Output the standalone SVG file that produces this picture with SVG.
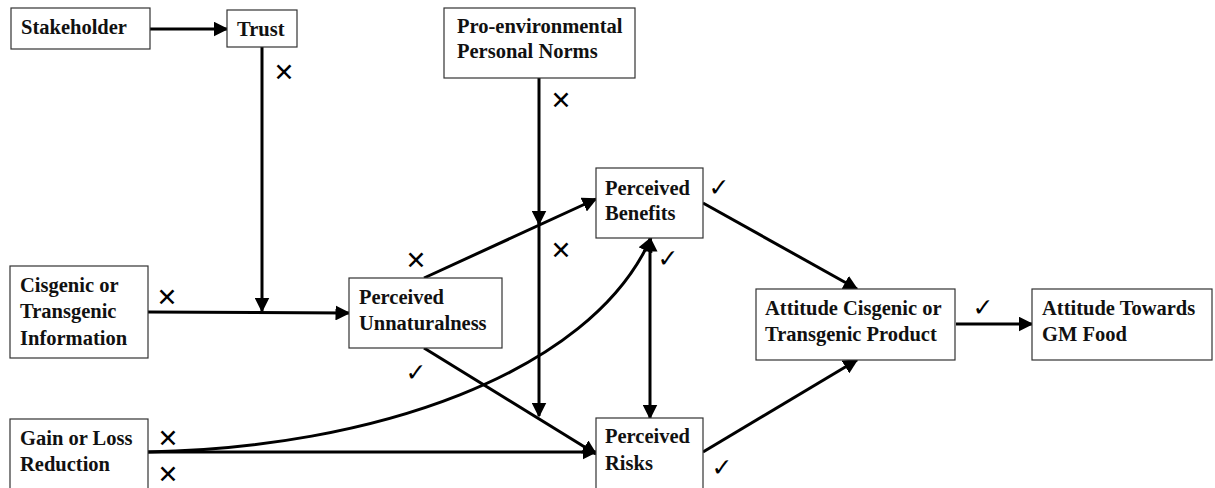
<svg xmlns="http://www.w3.org/2000/svg" width="1215" height="488" viewBox="0 0 1215 488">
<style>
.box{fill:#fff;stroke:#333;stroke-width:1.2}
.t{font-family:"Liberation Serif",serif;font-weight:bold;font-size:20.5px;fill:#111}
.c{stroke:#000;stroke-width:3;fill:none}
.m{font-family:"DejaVu Sans",sans-serif;font-size:25px;fill:#000}
.x{font-weight:bold}
</style>
<defs>
<marker id="ah" viewBox="0 0 10 10" refX="9" refY="5" markerWidth="5" markerHeight="5" orient="auto-start-reverse" markerUnits="strokeWidth">
<path d="M0,0 L10,5 L0,10 z" fill="#000"/>
</marker>
</defs>
<rect width="1215" height="488" fill="#fff"/>
<g id="connectors">
<line class="c" x1="150" y1="29" x2="227" y2="29" marker-end="url(#ah)"/>
<line class="c" x1="262" y1="47" x2="262" y2="311" marker-end="url(#ah)"/>
<line class="c" x1="148" y1="312" x2="349" y2="313" marker-end="url(#ah)"/>
<line class="c" x1="539" y1="78" x2="539" y2="224" marker-end="url(#ah)"/>
<line class="c" x1="539" y1="222" x2="539" y2="416" marker-end="url(#ah)"/>
<line class="c" x1="424" y1="278" x2="596" y2="199" marker-end="url(#ah)"/>
<line class="c" x1="424" y1="348" x2="596" y2="454" marker-end="url(#ah)"/>
<line class="c" x1="148" y1="452" x2="596" y2="452" marker-end="url(#ah)"/>
<path class="c" d="M148,452 C370,448 590,375 651,238" marker-end="url(#ah)"/>
<line class="c" x1="650" y1="238" x2="650" y2="418" marker-start="url(#ah)" marker-end="url(#ah)"/>
<line class="c" x1="703" y1="203" x2="857" y2="289" marker-end="url(#ah)"/>
<line class="c" x1="703" y1="452" x2="857" y2="360" marker-end="url(#ah)"/>
<line class="c" x1="956" y1="324" x2="1032" y2="324" marker-end="url(#ah)"/>
</g>
<g id="stakeholder"><rect class="box" x="11" y="8" width="139" height="41"/><text class="t" x="21" y="34">Stakeholder</text></g>
<g id="trust"><rect class="box" x="227" y="10" width="70" height="37"/><text class="t" x="237" y="36">Trust</text></g>
<g id="proenv"><rect class="box" x="444" y="8" width="191" height="70"/><text class="t" x="457" y="33">Pro-environmental</text><text class="t" x="457" y="58">Personal Norms</text></g>
<g id="cisgenic"><rect class="box" x="10" y="266" width="138" height="92"/><text class="t" x="20" y="292">Cisgenic or</text><text class="t" x="20" y="318">Transgenic</text><text class="t" x="20" y="345">Information</text></g>
<g id="gain"><rect class="box" x="10" y="419" width="138" height="75"/><text class="t" x="20" y="445">Gain or Loss</text><text class="t" x="20" y="471">Reduction</text></g>
<g id="unnaturalness"><rect class="box" x="349" y="278" width="153" height="70"/><text class="t" x="359" y="304">Perceived</text><text class="t" x="359" y="330">Unnaturalness</text></g>
<g id="benefits"><rect class="box" x="596" y="168" width="107" height="70"/><text class="t" x="605" y="195">Perceived</text><text class="t" x="605" y="220">Benefits</text></g>
<g id="risks"><rect class="box" x="596" y="418" width="107" height="75"/><text class="t" x="605" y="443">Perceived</text><text class="t" x="605" y="470">Risks</text></g>
<g id="attitude"><rect class="box" x="756" y="289" width="199" height="71"/><text class="t" x="765" y="315">Attitude Cisgenic or</text><text class="t" x="765" y="341">Transgenic Product</text></g>
<g id="towards"><rect class="box" x="1032" y="289" width="180" height="71"/><text class="t" x="1042" y="315">Attitude Towards</text><text class="t" x="1042" y="341">GM Food</text></g>
<g id="marks">
<text class="m x" x="284" y="81" text-anchor="middle">✕</text>
<text class="m x" x="561" y="109" text-anchor="middle">✕</text>
<text class="m x" x="167" y="306" text-anchor="middle">✕</text>
<text class="m x" x="416" y="269" text-anchor="middle">✕</text>
<text class="m x" x="561" y="259" text-anchor="middle">✕</text>
<text class="m" x="719" y="196" text-anchor="middle">✓</text>
<text class="m" x="668" y="267" text-anchor="middle">✓</text>
<text class="m" x="416" y="381" text-anchor="middle">✓</text>
<text class="m x" x="168" y="447" text-anchor="middle">✕</text>
<text class="m x" x="168" y="483" text-anchor="middle">✕</text>
<text class="m" x="722" y="476" text-anchor="middle">✓</text>
<text class="m" x="983" y="316" text-anchor="middle">✓</text>
</g>
</svg>
